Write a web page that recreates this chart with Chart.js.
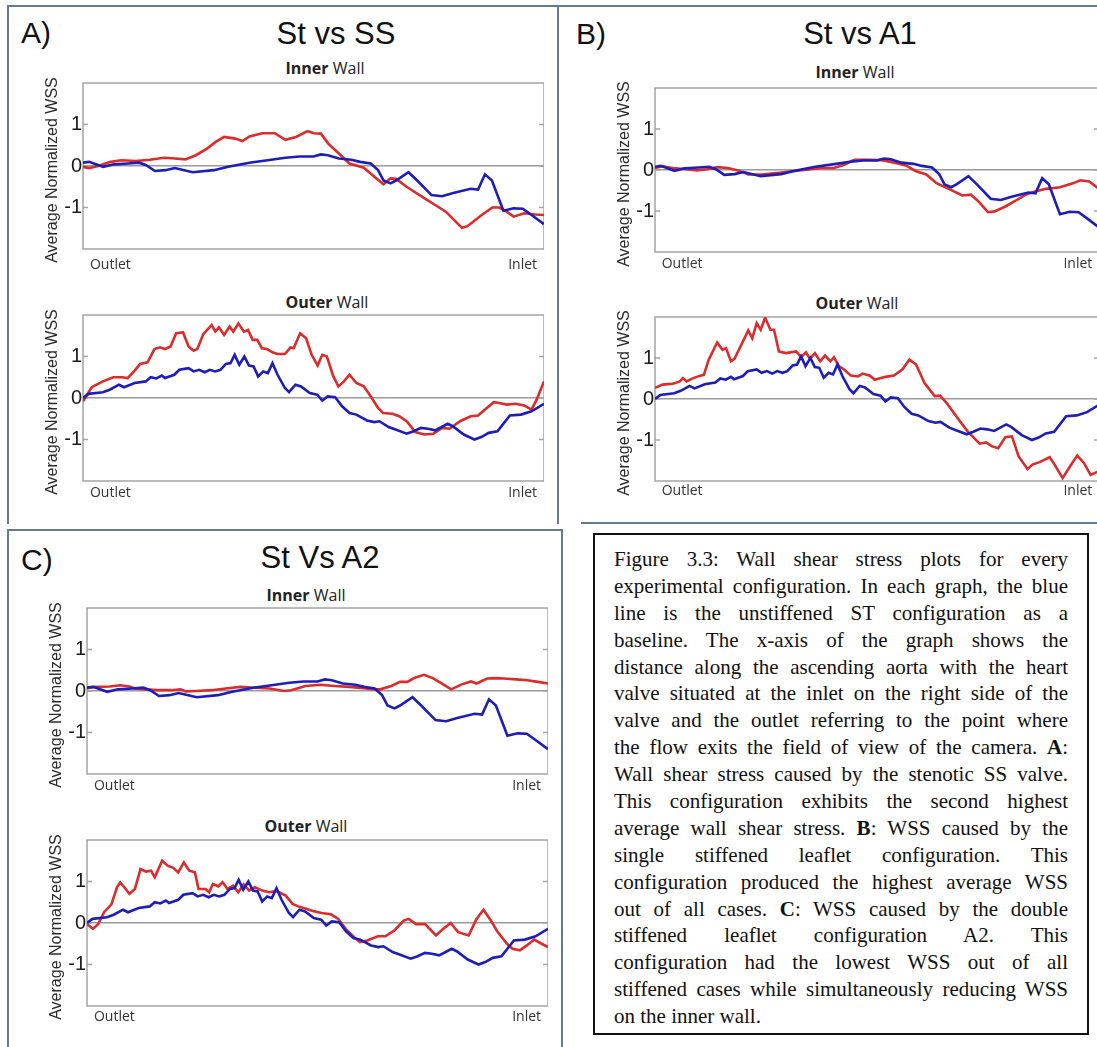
<!DOCTYPE html>
<html>
<head>
<meta charset="utf-8">
<script src="https://cdn.jsdelivr.net/npm/chart.js@4.4.0/dist/chart.umd.min.js"></script>
<style>
  body { margin: 0; width: 1097px; height: 1047px; overflow: hidden; background: #fff; position: relative; font-family: "Liberation Sans", Arial, sans-serif; }
  .frame { position: absolute; border: 2px solid #677a8e; box-sizing: border-box; }
  .rule { position: absolute; height: 2px; background: #677a8e; }
  .plot { position: absolute; }
  .lbl { position: absolute; font-size: 30px; color: #111; line-height: 1; transform: translateY(-50%); }
  .ttl { position: absolute; font-size: 31px; color: #111; line-height: 1; white-space: nowrap; transform: translate(-50%, -50%); }
  .sub { position: absolute; font-family: "Open Sans", sans-serif; font-size: 16px; color: #222; line-height: 1; white-space: nowrap; transform: translate(-50%, -50%); }
  .capbox { position: absolute; left: 593px; top: 533px; width: 496px; height: 502px; border: 2px solid #111; box-sizing: border-box; }
  .captext { position: absolute; left: 614px; top: 546px; width: 454px; font-family: "Liberation Serif", "Times New Roman", serif; font-size: 21px; color: #111; }
  .captext div { height: 26.9px; line-height: 26.9px; white-space: nowrap; text-align: justify; text-align-last: justify; }
  .captext div.last { text-align-last: left; }
</style>
</head>
<body>

<!-- panel frames -->
<div class="frame" style="left:7px;top:5px;width:552px;height:519px;border-bottom:none;"></div>
<div class="rule" style="left:558px;top:5px;width:540px;"></div>
<div class="rule" style="left:581px;top:522px;width:520px;"></div>
<div class="frame" style="left:7px;top:529px;width:556px;height:530px;border-bottom:none;"></div>

<!-- panel headings -->
<div class="lbl" style="left:21px;top:33px;">A)</div>
<div class="ttl" style="left:336px;top:33px;">St vs SS</div>
<div class="sub" style="left:325px;top:68px;"><b>Inner</b> Wall</div>
<div class="sub" style="left:327px;top:302px;"><b>Outer</b> Wall</div>

<div class="lbl" style="left:576px;top:34px;">B)</div>
<div class="ttl" style="left:860px;top:33px;">St vs A1</div>
<div class="sub" style="left:855px;top:72px;"><b>Inner</b> Wall</div>
<div class="sub" style="left:857px;top:303px;"><b>Outer</b> Wall</div>

<div class="lbl" style="left:21px;top:560px;">C)</div>
<div class="ttl" style="left:320px;top:557px;">St Vs A2</div>
<div class="sub" style="left:306px;top:595px;"><b>Inner</b> Wall</div>
<div class="sub" style="left:306px;top:826px;"><b>Outer</b> Wall</div>

<!-- charts: wrapper left = plot left - 40, top = plot top - 12 -->
<div class="plot" style="left:43px;top:71px;width:501px;height:206px;"><canvas id="aInner"></canvas></div>
<div class="plot" style="left:43px;top:303px;width:501px;height:202px;"><canvas id="aOuter"></canvas></div>
<div class="plot" style="left:615px;top:76px;width:484px;height:200px;"><canvas id="bInner"></canvas></div>
<div class="plot" style="left:615px;top:305px;width:484px;height:198px;"><canvas id="bOuter"></canvas></div>
<div class="plot" style="left:47px;top:596px;width:501px;height:202px;"><canvas id="cInner"></canvas></div>
<div class="plot" style="left:47px;top:828px;width:501px;height:201px;"><canvas id="cOuter"></canvas></div>

<!-- caption -->
<div class="capbox"></div>
<div class="captext">
  <div>Figure 3.3: Wall shear stress plots for every</div>
  <div>experimental configuration. In each graph, the blue</div>
  <div>line is the unstiffened ST configuration as a</div>
  <div>baseline. The x-axis of the graph shows the</div>
  <div>distance along the ascending aorta with the heart</div>
  <div>valve situated at the inlet on the right side of the</div>
  <div>valve and the outlet referring to the point where</div>
  <div>the flow exits the field of view of the camera. <b>A</b>:</div>
  <div>Wall shear stress caused by the stenotic SS valve.</div>
  <div>This configuration exhibits the second highest</div>
  <div>average wall shear stress. <b>B</b>: WSS caused by the</div>
  <div>single stiffened leaflet configuration. This</div>
  <div>configuration produced the highest average WSS</div>
  <div>out of all cases. <b>C</b>: WSS caused by the double</div>
  <div>stiffened leaflet configuration A2. This</div>
  <div>configuration had the lowest WSS out of all</div>
  <div>stiffened cases while simultaneously reducing WSS</div>
  <div class="last">on the inner wall.</div>
</div>

<script>
// position along the aorta (0 = outlet, 100 = inlet) and normalized WSS
// ST baseline (blue), same in all three panels
const stInnerX = [0, 1.3, 4.4, 6.7, 9.8, 12.2, 13.7, 15.6, 17.9, 19.9, 23.8, 28.4, 31.5, 36.1, 40.8, 43.9, 47, 50, 51.6, 53.1, 55.5, 58.2, 60.1, 62.4, 64, 65.2, 66.7, 67.9, 70.6, 72.5, 75.6, 77.9, 80.3, 84.1, 85.7, 87.2, 88.7, 91.2, 93.4, 95.4, 97.3, 100];
const stInnerY = [0.08, 0.1, -0.02, 0.04, 0.06, 0.08, 0.02, -0.12, -0.1, -0.05, -0.15, -0.1, -0.02, 0.08, 0.15, 0.2, 0.23, 0.23, 0.28, 0.26, 0.18, 0.15, 0.1, 0.06, -0.1, -0.35, -0.42, -0.35, -0.15, -0.35, -0.7, -0.73, -0.65, -0.55, -0.57, -0.2, -0.35, -1.08, -1.02, -1.03, -1.18, -1.4];

const stOuterX = [0, 1.2, 4.3, 5.8, 7.8, 8.9, 11.2, 13.6, 14.7, 15.9, 17.1, 17.8, 19.8, 20.9, 22.9, 24.0, 25.2, 26.4, 27.5, 28.7, 29.8, 31.0, 32.0, 32.9, 33.9, 35.0, 36.0, 37.0, 38.0, 39.1, 40.1, 41.1, 42.2, 43.8, 44.7, 46.1, 47.3, 49.2, 50.8, 51.9, 53.1, 54.7, 56.2, 57.8, 59.3, 61.6, 63.2, 64.3, 66.3, 67.8, 70.2, 71.7, 73.3, 74.8, 76.4, 79.1, 80.2, 82.6, 84.9, 86.4, 88.0, 89.9, 92.6, 95.0, 97.3, 100];
const stOuterY = [0, 0.1, 0.14, 0.2, 0.32, 0.26, 0.36, 0.4, 0.5, 0.47, 0.54, 0.48, 0.56, 0.68, 0.72, 0.64, 0.68, 0.62, 0.68, 0.64, 0.68, 0.82, 0.84, 1.04, 0.8, 1.0, 0.78, 0.76, 0.52, 0.64, 0.6, 0.84, 0.56, 0.24, 0.14, 0.32, 0.28, 0.12, 0.08, -0.06, 0.04, 0.02, -0.2, -0.36, -0.4, -0.54, -0.58, -0.56, -0.7, -0.76, -0.86, -0.8, -0.72, -0.74, -0.78, -0.62, -0.68, -0.88, -1.0, -0.94, -0.84, -0.8, -0.42, -0.4, -0.32, -0.14];

// SS valve (red, panel A)
const ssInnerX = [0, 1.3, 3.3, 6.0, 8.3, 11.4, 14.5, 17.6, 19.9, 22.2, 24.5, 26.9, 28.8, 30.6, 33.0, 34.6, 36.1, 38.9, 41.6, 43.9, 46.2, 48.7, 50.1, 51.6, 53.2, 55.5, 57.8, 60.9, 63.2, 65.2, 66.7, 67.9, 70.2, 74.1, 76.4, 78.7, 82.2, 83.4, 86.5, 88.8, 90.3, 91.9, 93.4, 95.7, 98.1, 100];
const ssInnerY = [-0.02, -0.05, 0, 0.1, 0.14, 0.12, 0.15, 0.2, 0.18, 0.16, 0.26, 0.42, 0.58, 0.7, 0.66, 0.6, 0.71, 0.79, 0.79, 0.63, 0.7, 0.84, 0.79, 0.78, 0.54, 0.3, 0.06, -0.04, -0.26, -0.44, -0.3, -0.31, -0.5, -0.78, -0.94, -1.1, -1.49, -1.45, -1.18, -1.0, -1.0, -1.1, -1.22, -1.14, -1.17, -1.18];
const ssOuterX = [0, 1.9, 4.3, 6.6, 8.5, 9.7, 11.2, 12.4, 14.0, 15.5, 16.7, 17.8, 19.0, 20.2, 21.7, 22.9, 24.0, 24.8, 26.1, 27.9, 28.7, 29.5, 30.6, 31.8, 32.6, 33.7, 34.9, 35.8, 36.8, 37.8, 38.8, 39.9, 41.1, 42.2, 43.8, 45.0, 45.7, 47.1, 48.4, 49.6, 50.9, 51.9, 52.9, 54.3, 55.4, 56.6, 57.8, 59.3, 60.9, 62.4, 64.0, 65.1, 67.1, 68.6, 70.2, 72.1, 74.0, 76.0, 77.9, 79.5, 81.8, 84.1, 85.7, 87.2, 89.1, 90.3, 91.9, 93.8, 95.7, 97.3, 98.4, 100];
const ssOuterY = [-0.08, 0.26, 0.4, 0.5, 0.5, 0.48, 0.66, 0.82, 0.86, 1.18, 1.22, 1.18, 1.24, 1.56, 1.58, 1.24, 1.14, 1.18, 1.54, 1.76, 1.6, 1.7, 1.52, 1.72, 1.6, 1.8, 1.6, 1.64, 1.4, 1.4, 1.2, 1.18, 1.1, 1.06, 1.06, 1.22, 1.2, 1.56, 1.44, 1.04, 0.78, 1.04, 1.0, 0.52, 0.28, 0.4, 0.56, 0.36, 0.28, 0.04, -0.24, -0.36, -0.38, -0.44, -0.56, -0.82, -0.88, -0.86, -0.72, -0.74, -0.56, -0.44, -0.42, -0.28, -0.1, -0.12, -0.16, -0.14, -0.18, -0.28, -0.04, 0.4];

// A1 single stiffened leaflet (red, panel B)
const a1InnerX = [0, 1.7, 4.0, 7.1, 9.4, 11.7, 14.0, 16.4, 18.7, 21.0, 24.1, 27.9, 31.0, 34.1, 37.2, 40.3, 42.6, 44.9, 48.0, 51.1, 54.2, 56.5, 58.8, 61.1, 63.4, 66.5, 69.2, 71.1, 72.7, 75.0, 76.5, 78.9, 81.2, 83.5, 85.8, 88.1, 91.2, 94.3, 95.8, 97.8, 100];
const a1InnerY = [0.05, 0.09, 0.05, 0.02, -0.01, 0.02, 0.07, 0.05, -0.01, -0.11, -0.11, -0.07, -0.03, 0.01, 0.05, 0.05, 0.13, 0.25, 0.25, 0.24, 0.17, 0.11, -0.03, -0.11, -0.32, -0.48, -0.62, -0.6, -0.75, -1.03, -1.01, -0.89, -0.75, -0.6, -0.52, -0.46, -0.42, -0.32, -0.25, -0.28, -0.46];
const a1OuterX = [0, 1.7, 4.0, 5.6, 6.3, 7.1, 8.6, 10.2, 11.0, 12.1, 14.0, 15.2, 16.0, 17.1, 17.9, 21.0, 21.9, 22.9, 23.8, 24.8, 26.0, 26.8, 27.9, 29.5, 31.8, 32.9, 34.0, 34.9, 36.0, 37.2, 38.3, 39.5, 40.3, 41.4, 42.6, 44.1, 45.7, 46.8, 48.4, 49.5, 51.9, 53.8, 55.7, 57.3, 58.8, 60.7, 63.0, 64.2, 65.7, 68.1, 70.4, 73.1, 74.6, 75.8, 77.3, 78.9, 80.4, 81.9, 83.9, 85.0, 86.6, 88.9, 90.0, 91.8, 93.5, 95.1, 96.6, 98.1, 100];
const a1OuterY = [0.27, 0.35, 0.37, 0.43, 0.51, 0.43, 0.51, 0.57, 0.59, 0.96, 1.38, 1.2, 1.24, 0.92, 0.98, 1.67, 1.48, 1.85, 1.69, 1.98, 1.69, 1.69, 1.16, 1.12, 1.16, 1.02, 1.14, 0.98, 1.12, 0.92, 1.06, 0.92, 1.02, 0.8, 0.72, 0.57, 0.55, 0.62, 0.57, 0.47, 0.54, 0.57, 0.72, 0.96, 0.84, 0.39, 0.07, 0.08, -0.1, -0.46, -0.79, -1.09, -1.06, -1.15, -1.2, -0.93, -0.91, -1.4, -1.71, -1.6, -1.54, -1.42, -1.6, -1.93, -1.64, -1.38, -1.56, -1.85, -1.76];

// A2 double stiffened leaflet (red, panel C)
const a2InnerX = [0, 1.7, 4.9, 7.2, 9.2, 10.4, 12.8, 15.1, 18.3, 20.3, 21.4, 23.8, 27.0, 30.1, 33.3, 36.4, 39.6, 42.7, 44.3, 47.4, 50.6, 53.7, 56.9, 60.0, 62.4, 63.6, 66.0, 67.9, 69.5, 71.1, 73.1, 75.0, 77.0, 79.0, 81.3, 83.3, 84.5, 86.8, 88.4, 90.4, 93.1, 95.5, 97.8, 100];
const a2InnerY = [0.07, 0.1, 0.11, 0.14, 0.11, 0.06, 0.04, 0.02, 0.02, 0.04, -0.01, 0, 0.02, 0.06, 0.1, 0.08, 0.06, 0, 0.02, 0.12, 0.15, 0.12, 0.1, 0.07, 0.04, 0.04, 0.12, 0.22, 0.22, 0.32, 0.39, 0.31, 0.18, 0.04, 0.16, 0.23, 0.18, 0.3, 0.31, 0.3, 0.28, 0.26, 0.22, 0.18];
const a2OuterX = [0, 0.6, 1.3, 2.4, 3.7, 5.3, 6.5, 7.2, 8.4, 9.2, 10.4, 11.6, 12.8, 13.9, 14.7, 16.3, 17.5, 18.7, 19.8, 21.0, 22.2, 23.4, 24.2, 25.7, 26.5, 27.3, 28.5, 29.4, 30.5, 31.7, 32.8, 34.0, 35.2, 36.4, 38.0, 39.5, 41.1, 43.1, 44.6, 45.8, 47.0, 49.0, 50.9, 52.9, 54.5, 56.1, 58.0, 59.2, 60.8, 63.1, 64.7, 66.7, 68.7, 69.8, 71.4, 73.4, 75.7, 77.3, 78.9, 80.5, 82.8, 84.4, 86.0, 87.6, 89.1, 91.1, 92.3, 93.9, 95.4, 97.0, 98.6, 100];
const a2OuterY = [-0.03, -0.08, -0.14, -0.03, 0.26, 0.45, 0.86, 0.98, 0.82, 0.7, 0.82, 1.3, 1.24, 1.26, 1.1, 1.5, 1.38, 1.33, 1.22, 1.46, 1.26, 1.22, 0.82, 0.82, 0.74, 0.94, 0.88, 0.98, 0.82, 0.9, 0.74, 0.93, 0.78, 0.86, 0.78, 0.74, 0.77, 0.66, 0.46, 0.4, 0.36, 0.29, 0.24, 0.21, 0.1, -0.14, -0.35, -0.46, -0.42, -0.32, -0.32, -0.18, 0.06, 0.1, -0.03, -0.03, -0.3, -0.14, 0, -0.22, -0.3, 0.08, 0.32, 0.06, -0.22, -0.5, -0.62, -0.66, -0.54, -0.4, -0.5, -0.58];

const yTicks = [-1, 0, 1];
const xEndLabels = ["Outlet", "Inlet"];
const xLabelAt = [1.5, 98.5];
const yTitle = "Average Normalized WSS";

const RED = "#dc2b2b";
const BLUE = "#1d1db9";
const TOP_PAD = 12;

// grey box round the plot, small inward ticks, and the y title (not squeezed to the plot height)
const framePlugin = {
    id: "frame",
    beforeDatasetsDraw(chart) {
        const { ctx, chartArea: a, scales: { y } } = chart;
        ctx.save();
        ctx.strokeStyle = "#a4a4a4";
        ctx.lineWidth = 1.5;
        ctx.strokeRect(a.left, a.top, a.right - a.left, a.bottom - a.top);
        ctx.beginPath();
        y.ticks.forEach(t => {
            const py = y.getPixelForValue(t.value);
            ctx.moveTo(a.left, py); ctx.lineTo(a.left + 5, py);
            ctx.moveTo(a.right, py); ctx.lineTo(a.right - 5, py);
        });
        ctx.stroke();
        ctx.restore();
    },
    afterDraw(chart) {
        const { ctx, chartArea: a } = chart;
        ctx.save();
        ctx.translate(a.left - 30, (a.top + a.bottom) / 2 + 4);
        ctx.rotate(-Math.PI / 2);
        ctx.fillStyle = "#2a2a2a";
        ctx.font = '16px "Liberation Sans", Arial, sans-serif';
        ctx.textAlign = "center";
        ctx.textBaseline = "middle";
        ctx.fillText(yTitle, 0, 0);
        ctx.restore();
    }
};

function pairs(xs, ys) {
    return xs.map((x, i) => ({ x: x, y: ys[i] }));
}

function noPad(s) {
    s.paddingTop = 0; s.paddingBottom = 0; s.paddingLeft = 0; s.paddingRight = 0;
}

function makeChart(id, redX, redY, blueX, blueY, labelPad) {
    const xh = labelPad + 20;
    new Chart(document.getElementById(id), {
        type: "line",
        data: {
            datasets: [
                { data: pairs(blueX, blueY), borderColor: BLUE, borderWidth: 2.6 },
                { data: pairs(redX, redY), borderColor: RED, borderWidth: 2.6 }
            ]
        },
        options: {
            responsive: true,
            maintainAspectRatio: false,
            animation: false,
            layout: { padding: { top: TOP_PAD, left: 0, right: 0, bottom: 0 }, autoPadding: false },
            elements: { point: { radius: 0 }, line: { tension: 0 } },
            plugins: { legend: { display: false }, tooltip: { enabled: false } },
            scales: {
                x: {
                    type: "linear", min: 0, max: 100,
                    grid: { display: false, drawTicks: false },
                    border: { display: false },
                    afterBuildTicks: s => { s.ticks = xLabelAt.map(v => ({ value: v })); },
                    afterFit: s => { s.height = xh; noPad(s); },
                    ticks: {
                        autoSkip: false, maxRotation: 0, align: "inner", padding: labelPad,
                        color: "#333", font: { family: "Open Sans", size: 14 },
                        callback: (v, i) => xEndLabels[i]
                    }
                },
                y: {
                    min: -2, max: 2,
                    grid: {
                        drawTicks: false, lineWidth: 1.5,
                        color: c => (c.tick && c.tick.value === 0 ? "#9a9a9a" : "rgba(0,0,0,0)")
                    },
                    border: { display: false },
                    afterBuildTicks: s => { s.ticks = yTicks.map(v => ({ value: v })); },
                    afterFit: s => { s.width = 40; noPad(s); },
                    ticks: {
                        padding: 1, color: "#1a1a1a",
                        font: { family: "Liberation Sans", size: 20 },
                        callback: v => String(v)
                    },
                    title: { display: false }
                }
            }
        },
        plugins: [framePlugin]
    });
}

document.addEventListener("DOMContentLoaded", () => {
    makeChart("aInner", ssInnerX, ssInnerY, stInnerX, stInnerY, 8);
    makeChart("aOuter", ssOuterX, ssOuterY, stOuterX, stOuterY, 4);
    makeChart("bInner", a1InnerX, a1InnerY, stInnerX, stInnerY, 4);
    makeChart("bOuter", a1OuterX, a1OuterY, stOuterX, stOuterY, 2);
    makeChart("cInner", a2InnerX, a2InnerY, stInnerX, stInnerY, 4);
    makeChart("cOuter", a2OuterX, a2OuterY, stOuterX, stOuterY, 3);
});
</script>
</body>
</html>
